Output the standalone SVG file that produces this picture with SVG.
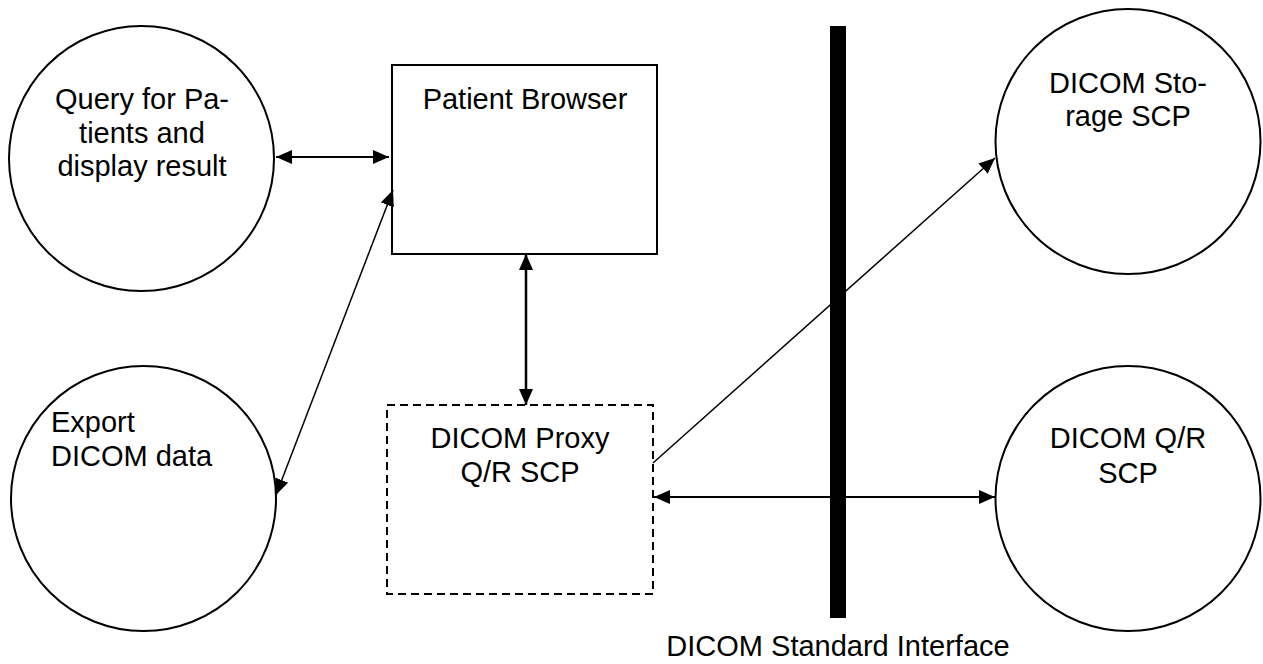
<svg xmlns="http://www.w3.org/2000/svg" width="1263" height="664" viewBox="0 0 1263 664">
  <style>
    text { font-family: "Liberation Sans", Arial, sans-serif; font-size: 29px; fill: #000; }
    .mid { text-anchor: middle; }
    .shape { fill: #fff; stroke: #000; stroke-width: 2; }
    .dashed { fill: #fff; stroke: #000; stroke-width: 2; stroke-dasharray: 8 5; }
    .link { stroke: #000; fill: none; }
  </style>
  <defs>
    <marker id="head" viewBox="0 0 16 14" refX="16" refY="7" markerWidth="16" markerHeight="14" markerUnits="userSpaceOnUse" orient="auto-start-reverse">
      <path d="M0,0 L16,7 L0,14 Z" fill="#000"/>
    </marker>
  </defs>

  <!-- interface boundary -->
  <g id="interface">
    <rect x="830" y="26" width="16" height="592" fill="#000"/>
    <text class="mid" x="838" y="656">DICOM Standard Interface</text>
  </g>

  <g id="query">
    <circle class="shape" cx="141.5" cy="158.5" r="132.5"/>
    <text class="mid" x="142" y="109">Query for Pa-</text>
    <text class="mid" x="142" y="143">tients and</text>
    <text class="mid" x="142" y="176">display result</text>
  </g>

  <g id="export">
    <circle class="shape" cx="143.5" cy="498.5" r="132.5"/>
    <text x="51" y="432">Export</text>
    <text x="51" y="466">DICOM data</text>
  </g>

  <g id="browser">
    <rect class="shape" x="392" y="65" width="265" height="189"/>
    <text class="mid" x="525" y="109">Patient Browser</text>
  </g>

  <g id="proxy">
    <rect class="dashed" x="387" y="405" width="266" height="189"/>
    <text class="mid" x="520" y="448">DICOM Proxy</text>
    <text class="mid" x="520" y="482">Q/R SCP</text>
  </g>

  <g id="storage">
    <circle class="shape" cx="1128" cy="141.5" r="132.5"/>
    <text class="mid" x="1128" y="93">DICOM Sto-</text>
    <text class="mid" x="1128" y="126">rage SCP</text>
  </g>

  <g id="qr">
    <circle class="shape" cx="1128" cy="498.5" r="132.5"/>
    <text class="mid" x="1128" y="448">DICOM Q/R</text>
    <text class="mid" x="1128" y="483">SCP</text>
  </g>

  <g id="connectors">
    <line class="link" stroke-width="2" x1="276" y1="157" x2="389" y2="157" marker-start="url(#head)" marker-end="url(#head)"/>
    <line class="link" stroke-width="1.5" x1="276" y1="495" x2="393" y2="190" marker-start="url(#head)" marker-end="url(#head)"/>
    <line class="link" stroke-width="2.5" x1="526" y1="254" x2="526" y2="405" marker-start="url(#head)" marker-end="url(#head)"/>
    <line class="link" stroke-width="1.5" x1="653" y1="463" x2="995" y2="158" marker-end="url(#head)"/>
    <line class="link" stroke-width="2" x1="654" y1="497" x2="995" y2="497" marker-start="url(#head)" marker-end="url(#head)"/>
  </g>
</svg>
